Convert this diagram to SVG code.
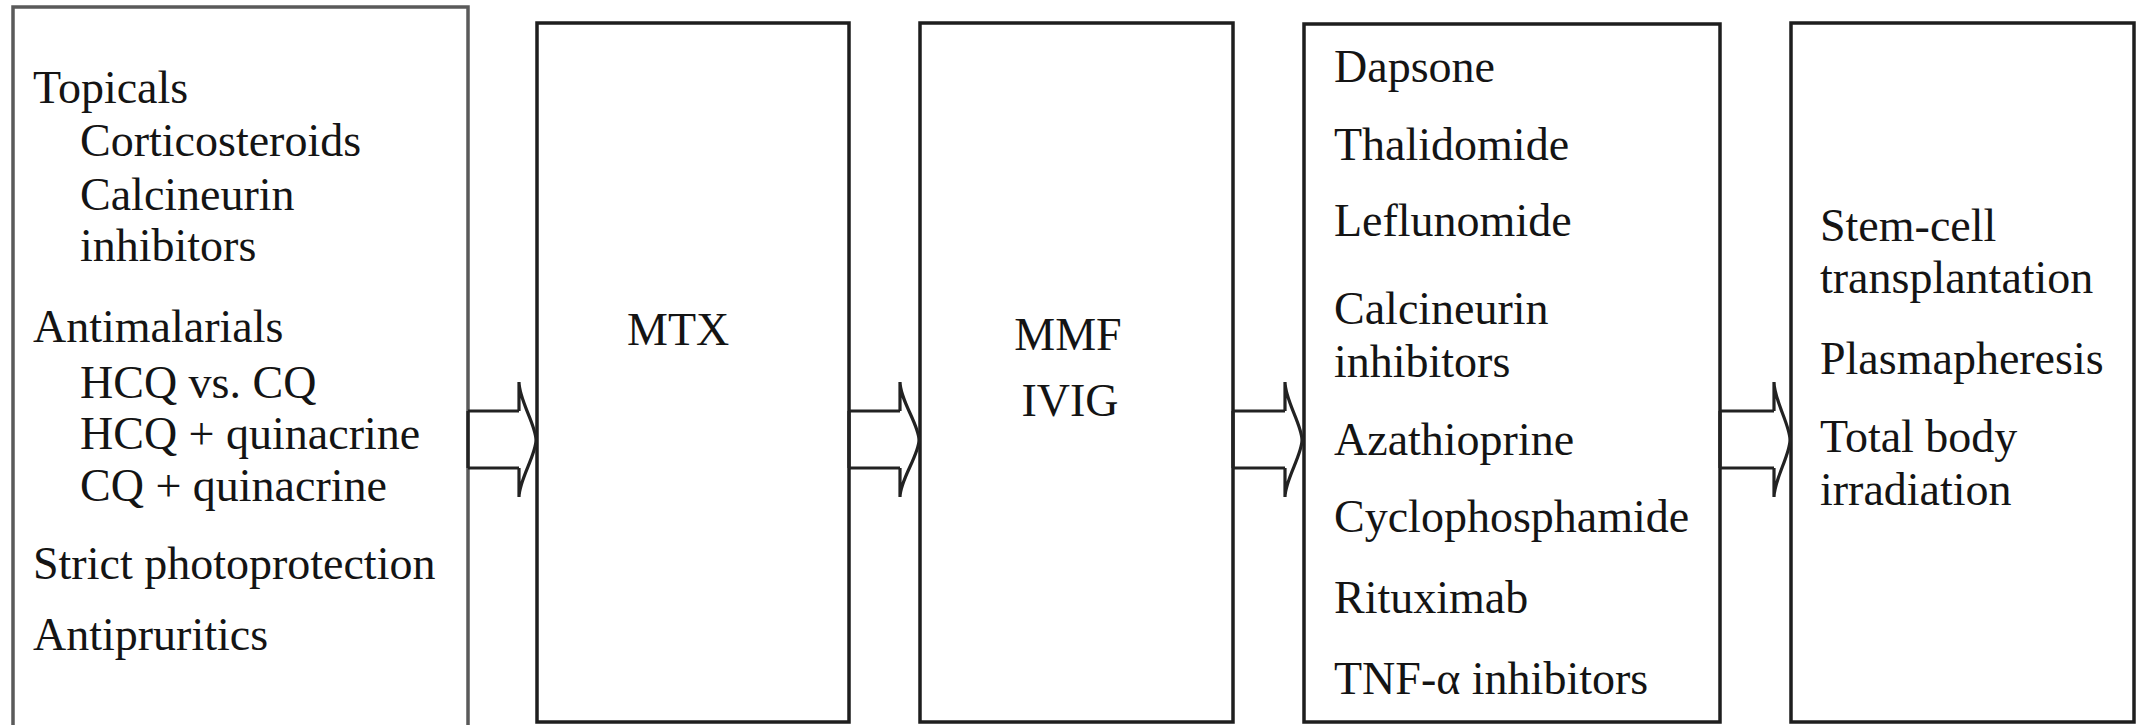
<svg xmlns="http://www.w3.org/2000/svg" width="2136" height="725" viewBox="0 0 2136 725">
<style>
.box{fill:#ffffff;stroke:#1e1e1e;stroke-width:3.5}
.box1{fill:#ffffff;stroke:#5a5a5a;stroke-width:3.5}
.t{font-family:"Liberation Serif","Times New Roman",serif;font-size:46px;fill:#141414}
.arr{fill:none;stroke:#222;stroke-width:3.2;stroke-linejoin:miter}
</style>
<rect x="0" y="0" width="2136" height="725" fill="#ffffff"/>
<g id="node-first-line">
<rect class="box1" x="13" y="7" width="455" height="730"/>
<text class="t" x="33" y="103">Topicals</text>
<text class="t" x="80" y="156">Corticosteroids</text>
<text class="t" x="80" y="210">Calcineurin</text>
<text class="t" x="80" y="261">inhibitors</text>
<text class="t" x="33" y="342">Antimalarials</text>
<text class="t" x="80" y="398">HCQ vs. CQ</text>
<text class="t" x="80" y="449">HCQ + quinacrine</text>
<text class="t" x="80" y="501">CQ + quinacrine</text>
<text class="t" x="33" y="579">Strict photoprotection</text>
<text class="t" x="33" y="650">Antipruritics</text>
</g>
<g id="node-mtx">
<rect class="box" x="537" y="23" width="312" height="699"/>
<text class="t" x="627" y="345">MTX</text>
</g>
<g id="node-mmf-ivig">
<rect class="box" x="920" y="23" width="313" height="699"/>
<text class="t" x="1068" y="350" text-anchor="middle">MMF</text>
<text class="t" x="1070" y="416" text-anchor="middle">IVIG</text>
</g>
<g id="node-fourth-line">
<rect class="box" x="1304" y="24" width="416" height="698"/>
<text class="t" x="1334" y="82">Dapsone</text>
<text class="t" x="1334" y="160">Thalidomide</text>
<text class="t" x="1334" y="236">Leflunomide</text>
<text class="t" x="1334" y="324">Calcineurin</text>
<text class="t" x="1334" y="377">inhibitors</text>
<text class="t" x="1334" y="455">Azathioprine</text>
<text class="t" x="1334" y="532">Cyclophosphamide</text>
<text class="t" x="1334" y="613">Rituximab</text>
<text class="t" x="1334" y="694">TNF-α inhibitors</text>
</g>
<g id="node-fifth-line">
<rect class="box" x="1791" y="23" width="343" height="699"/>
<text class="t" x="1820" y="241">Stem-cell</text>
<text class="t" x="1820" y="293">transplantation</text>
<text class="t" x="1820" y="374">Plasmapheresis</text>
<text class="t" x="1820" y="452">Total body</text>
<text class="t" x="1820" y="505">irradiation</text>
</g>
<g id="connectors">
<path class="arr" d="M468 411 L519 411 M468 468 L519 468 M468 411 L468 468 M519 382 C519 400 536 425 536 440 C536 455 519 480 519 497 M519 382 L519 411 M519 468 L519 497"/>
<path class="arr" d="M849 411 L900 411 M849 468 L900 468 M849 411 L849 468 M900 382 C900 400 919 425 919 440 C919 455 900 480 900 497 M900 382 L900 411 M900 468 L900 497"/>
<path class="arr" d="M1233 411 L1285 411 M1233 468 L1285 468 M1233 411 L1233 468 M1285 382 C1285 400 1302 425 1302 440 C1302 455 1285 480 1285 497 M1285 382 L1285 411 M1285 468 L1285 497"/>
<path class="arr" d="M1720 411 L1774 411 M1720 468 L1774 468 M1720 411 L1720 468 M1774 382 C1774 400 1790 425 1790 440 C1790 455 1774 480 1774 497 M1774 382 L1774 411 M1774 468 L1774 497"/>
</g>
</svg>
